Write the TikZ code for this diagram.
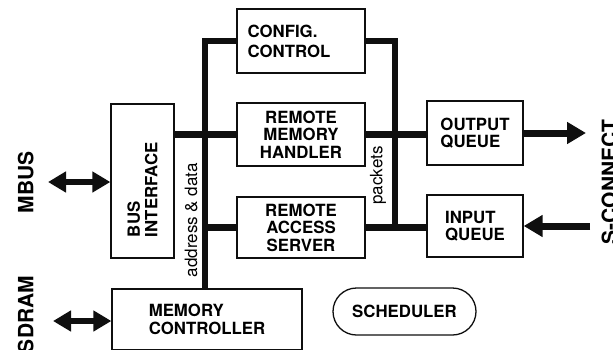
\documentclass[tikz,border=0pt]{standalone}
\usepackage{fontspec}
\setmainfont{TeX Gyre Heros}
\usepackage{tikz}
\usetikzlibrary{arrows.meta,positioning,calc}
\definecolor{encre}{RGB}{15,15,15}

\begin{document}
\begin{tikzpicture}[x=1pt,y=-1pt,
    bloc/.style={draw=encre,line width=1.3pt,inner sep=0pt,
                 font=\bfseries\fontsize{16.8}{17.5}\selectfont},
    bus/.style={encre,line width=6.6pt},
    fleche/.style={encre,line width=7pt,-{Triangle[length=19pt,width=21pt]}},
    fleches/.style={encre,line width=6pt,
                    {Triangle[length=18pt,width=20pt]}-{Triangle[length=18pt,width=20pt]}},
    cote/.style={font=\bfseries\fontsize{21}{24}\selectfont,inner sep=0pt,rotate=90},
    petit/.style={font=\fontsize{17}{20}\selectfont,inner sep=0pt,rotate=90}]
      \useasboundingbox (0,0) rectangle (613,349);
      % blocs
      \node[bloc,minimum width=128,minimum height=64,text width=107,align=left,
            font=\bfseries\fontsize{16.8}{20}\selectfont] (cfg) at (301,41) {CONFIG.\\CONTROL};
      \node[bloc,minimum width=128,minimum height=63,align=center] (rmh) at (301,134.5) {REMOTE\\MEMORY\\HANDLER};
      \node[bloc,minimum width=128,minimum height=61,align=center] (ras) at (301,227.5) {REMOTE\\ACCESS\\SERVER};
      \node[bloc,minimum width=96,minimum height=64,align=left] (oq) at (475,133) {OUTPUT\\QUEUE};
      \node[bloc,minimum width=96,minimum height=62,align=left] (iq) at (475,226) {INPUT\\QUEUE};
      % tourne : north = gauche, south = droite
      \node[bloc,rotate=90,minimum width=154,minimum height=63,text width=112,align=left] (bi) at (142.5,181) {BUS\\INTERFACE};
      \node[bloc,minimum width=190,minimum height=61,align=left] (mc) at (207,319.5) {MEMORY\\CONTROLLER};
      \node[bloc,minimum width=143,minimum height=47,rounded corners=23.5pt] (sch) at (404.5,311.5) {SCHEDULER};
      % bus
      \coordinate (lb) at (205,0);
      \coordinate (rb) at (395,0);
      \draw[bus] (cfg.west) -| (lb |- mc.north);
      \draw[bus] (bi.south |- rmh.west) -- (rmh.west);
      \draw[bus] (lb |- ras.west) -- (ras.west);
      \draw[bus] (cfg.east) -| (rb |- ras.east);
      \draw[bus] (rmh.east) -- (oq.west |- rmh.east);
      \draw[bus] (ras.east) -- (iq.west |- ras.east);
      % liaisons externes
      \coordinate (sout) at (586,133);
      \coordinate (sin) at (590,226);
      \coordinate (mb) at (48,182);
      \coordinate (sd) at (53,321);
      \draw[fleche] (oq.east) -- (sout);
      \draw[fleche] (sin) -- (iq.east);
      \draw[fleches] (mb) -- (bi.north |- mb);
      \draw[fleches] (sd) -- (mc.west |- sd);
      % etiquettes
      \node[cote] (mbuslbl) at (25.8,182.5) {MBUS};
      \node[cote] (sdramlbl) at (25.8,314.5) {SDRAM};
      \node[cote] (sclbl) at (609.5,182) {S-CONNECT};
      \node[petit] (adlbl) at (191,220) {address \& data};
      \node[petit] (pklbl) at (378,175.5) {packets};
    \end{tikzpicture}
\end{document}
